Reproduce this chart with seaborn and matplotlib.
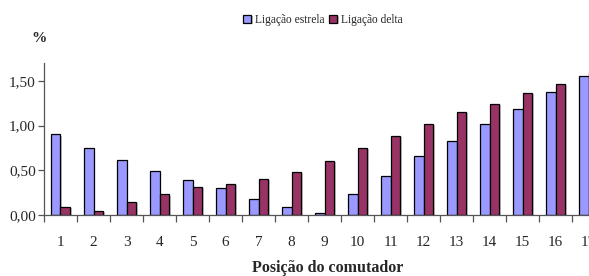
import matplotlib
matplotlib.use("Agg")
import matplotlib.pyplot as plt
import matplotlib.patheffects as pe
import seaborn as sns
import pandas as pd
import numpy as np

# posições do comutador e perdas (%)
posicoes = [str(i) for i in range(1, 18)]
estrela = [0.90, 0.75, 0.62, 0.49, 0.39, 0.30, 0.18, 0.09, 0.02, 0.23,
           0.44, 0.66, 0.83, 1.02, 1.19, 1.38, 1.55]
delta = [0.09, 0.05, 0.15, 0.23, 0.31, 0.35, 0.40, 0.48, 0.60, 0.75,
         0.88, 1.02, 1.15, 1.24, 1.36, 1.47, 1.60]
series = ["Ligação estrela", "Ligação delta"]
yticks = [0.0, 0.5, 1.0, 1.5]

df = pd.DataFrame({
    "pos": posicoes * 2,
    "valor": estrela + delta,
    "serie": [series[0]] * len(posicoes) + [series[1]] * len(posicoes),
})

sns.set_style("white")
plt.rcParams["font.family"] = ["Liberation Serif", "DejaVu Serif"]

fig = plt.figure(figsize=(5.89, 2.76), dpi=100)
ax = fig.add_axes([0.0747, 0.221, 0.9525, 0.551])

sns.barplot(data=df, x="pos", y="valor", hue="serie", order=posicoes,
            hue_order=series, palette=["#9999FF", "#993366"], width=0.58,
            edgecolor="black", linewidth=0.9, saturation=1, ax=ax)

for p in ax.patches:
    p.set_path_effects([pe.SimplePatchShadow(offset=(1.2, -0.8), shadow_rgbFace="#999999", alpha=0.6),
                        pe.Normal()])

ax.set_ylim(0, 1.70)
ax.set_xlim(-0.5, 16.5)
ax.set_yticks(yticks)
ax.set_yticklabels([f"{v:.2f}".replace(".", ",") for v in yticks], fontsize=11)

# ticks nas divisões entre categorias, rótulos no centro
ax.set_xticks(np.arange(-0.5, 17, 1))
ax.set_xticklabels([])
ax.set_xticks(np.arange(17), minor=True)
ax.set_xticklabels(posicoes, minor=True, fontsize=11)
ax.tick_params(axis="x", which="major", direction="out", length=5, width=0.9, color="#555555", bottom=True)
ax.tick_params(axis="x", which="minor", length=0, pad=15)
ax.tick_params(axis="y", direction="out", length=4, width=0.9, color="#555555", left=True, pad=2)

ax.set_xlabel("")
ax.set_ylabel("")
for s in ["top", "right"]:
    ax.spines[s].set_visible(False)
for s in ["left", "bottom"]:
    ax.spines[s].set_color("#555555")
    ax.spines[s].set_linewidth(0.9)

leg = ax.legend(loc="center", bbox_to_anchor=(0.548, 0.928), bbox_transform=fig.transFigure,
                ncol=2, frameon=False, fontsize=8.3, handlelength=0.7, handleheight=0.7,
                handletextpad=0.3, columnspacing=0.4)

fig.text(0.066, 0.862, "%", fontsize=11, fontweight="bold", ha="center", va="center")
fig.text(0.556, 0.03, "Posição do comutador", fontsize=11.5, fontweight="bold", ha="center", va="center")

fig.savefig("out.png", dpi=100)
